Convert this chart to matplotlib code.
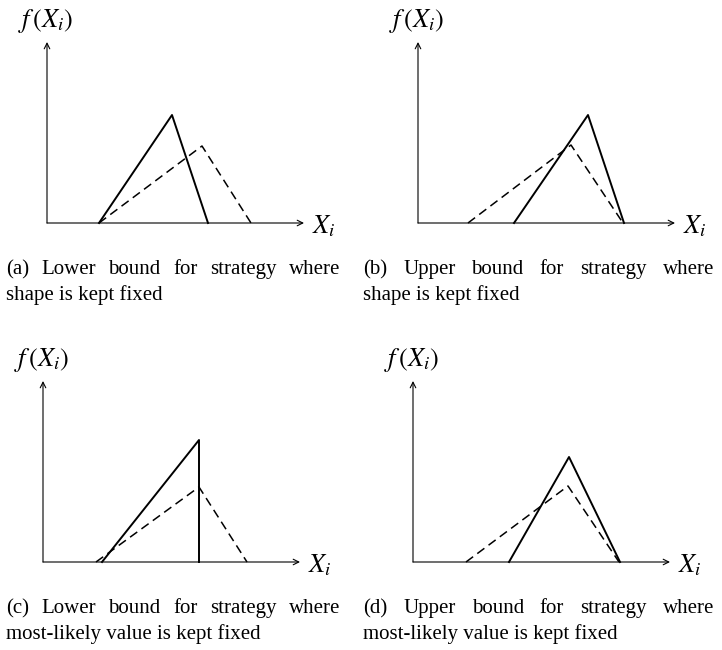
import matplotlib
matplotlib.use('Agg')
from matplotlib import pyplot as plt

plt.rcParams['font.family'] = 'Liberation Serif'
plt.rcParams['mathtext.fontset'] = 'stix'

W, H = 722, 650

# triangle corners (pixels from each panel's origin)
solid_a_x = [52, 125, 161]
solid_a_y = [0, 108, 0]
dash_a_x = [52, 155, 204]
dash_a_y = [0, 77, 0]

solid_b_x = [96, 170, 206]
solid_b_y = [0, 108, 0]
dash_b_x = [50, 153, 205]
dash_b_y = [0, 78, 0]

solid_c_x = [59, 156, 156]
solid_c_y = [0, 122, 0]
dash_c_x = [53, 156, 204]
dash_c_y = [0, 75, 0]

solid_d_x = [96, 156, 207]
solid_d_y = [0, 105, 0]
dash_d_x = [53, 155, 206]
dash_d_y = [0, 76, 0]

captions = [
    ["(a) Lower bound for strategy where", "shape is kept fixed"],
    ["(b) Upper bound for strategy where", "shape is kept fixed"],
    ["(c) Lower bound for strategy where", "most-likely value is kept fixed"],
    ["(d) Upper bound for strategy where", "most-likely value is kept fixed"],
]

panels = [
    (solid_a_x, solid_a_y, dash_a_x, dash_a_y),
    (solid_b_x, solid_b_y, dash_b_x, dash_b_y),
    (solid_c_x, solid_c_y, dash_c_x, dash_c_y),
    (solid_d_x, solid_d_y, dash_d_x, dash_d_y),
]

# layout (pixels)
origins = [(47, 223), (418, 223), (43, 562), (413, 562)]
cap_left = [6, 363, 6, 363]
cap_right = [340, 714, 340, 714]
cap_base = [274, 274, 613, 613]
line_gap = 26
axw, axh = 257, 181
cap_size = 15

fig = plt.figure(figsize=(W / 100, H / 100), dpi=100)
renderer = fig.canvas.get_renderer()

for k in range(4):
    sx, sy, dx, dy = panels[k]
    ox, oy = origins[k]
    ax = fig.add_axes([ox / W, 1 - oy / H, (axw + 1) / W, (axh + 1) / H])
    ax.set_xlim(0, axw + 1)
    ax.set_ylim(0, axh + 1)
    ax.axis('off')

    arrow = dict(arrowstyle='->', lw=0.8, color='black', shrinkA=0, shrinkB=0,
                 mutation_scale=10)
    ax.annotate('', xy=(axw, 0), xytext=(0, 0), arrowprops=arrow)
    ax.annotate('', xy=(0, axh), xytext=(0, 0), arrowprops=arrow)

    ax.plot(sx, sy, color='black', lw=1.4, clip_on=False)
    ax.plot(dx, dy, color='black', lw=1.1, dashes=(5.8, 3.4), clip_on=False)

    ax.text(-1, axh + 21, r'$f\,(X_i)$', ha='center', va='center', fontsize=19,
            clip_on=False)
    ax.text(axw + 8, -3, '$X_i$', ha='left', va='center', fontsize=19,
            clip_on=False)

    # caption, first line justified
    words = captions[k][0].split()
    texts = []
    for w in words:
        texts.append(fig.text(0, 1 - cap_base[k] / H, w, fontsize=cap_size,
                              va='baseline', ha='left'))
    widths = [t.get_window_extent(renderer).width for t in texts]
    gap = (cap_right[k] - cap_left[k] - sum(widths)) / (len(words) - 1)
    x = cap_left[k]
    for t, wd in zip(texts, widths):
        t.set_x(x / W)
        x += wd + gap
    fig.text(cap_left[k] / W, 1 - (cap_base[k] + line_gap) / H, captions[k][1],
             fontsize=cap_size, va='baseline', ha='left')

fig.savefig('out.png', dpi=100)
